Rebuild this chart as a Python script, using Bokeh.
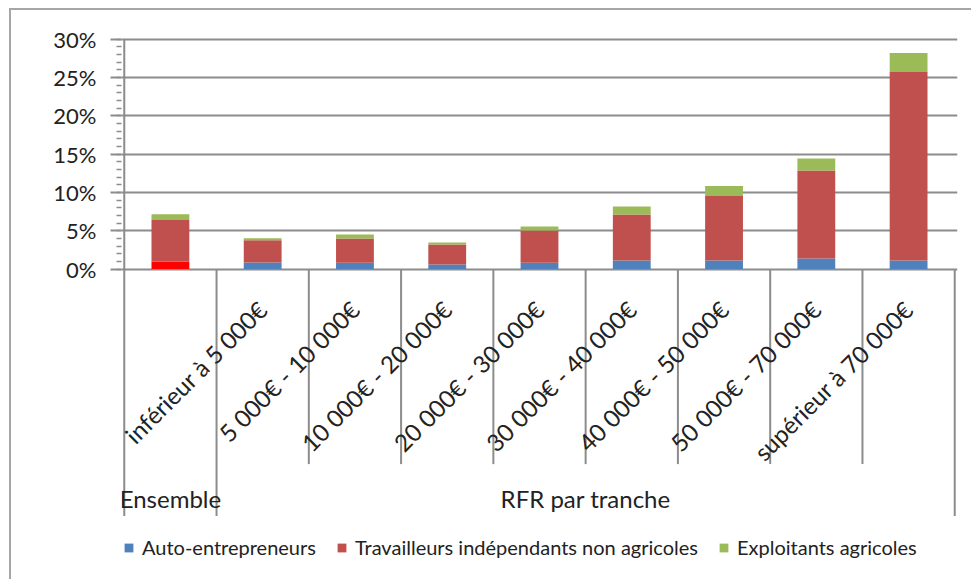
from math import pi

from bokeh.plotting import figure
from bokeh.models import (ColumnDataSource, FactorRange, Range1d, SingleIntervalTicker,
                          NumeralTickFormatter, Legend, LegendItem)
from bokeh.core.properties import value
from bokeh.embed import file_html
from bokeh.resources import INLINE

# ---------------- data ----------------
categories = ["Ensemble", "inférieur à 5 000€", "5 000€ - 10 000€", "10 000€ - 20 000€",
              "20 000€ - 30 000€", "30 000€ - 40 000€", "40 000€ - 50 000€",
              "50 000€ - 70 000€", "supérieur à 70 000€"]
tick_labels = ["", "inférieur à 5 000€", "5 000€ - 10 000€", "10 000€ - 20 000€",
               "20 000€ - 30 000€", "30 000€ - 40 000€", "40 000€ - 50 000€",
               "50 000€ - 70 000€", "supérieur à 70 000€"]
groups = ["Ensemble", "RFR par tranche"]
group_sizes = [1, 8]
series = ["Auto-entrepreneurs", "Travailleurs indépendants non agricoles", "Exploitants agricoles"]
auto_entrepreneurs = [0.0095, 0.0087, 0.0082, 0.0061, 0.0082, 0.0113, 0.0113, 0.0139, 0.0113]
travailleurs_independants = [0.0544, 0.0291, 0.0318, 0.0261, 0.0423, 0.0600, 0.0839, 0.1148, 0.2457]
exploitants_agricoles = [0.0078, 0.0026, 0.0052, 0.0026, 0.0052, 0.0104, 0.0131, 0.0156, 0.0250]

# ---------------- style ----------------
BLUE, RED, GREEN, ENSEMBLE_RED = "#4F81BD", "#C0504D", "#9BBB59", "#FF0000"
GRID = "#8c8c8c"
TEXT = "#222222"
FONT = "Lato"
PX = 230 / 0.30          # pixels per unit on the y scale
FRAME_H = 543
Y_END = 0.3034
Y_START = Y_END - FRAME_H / PX
Y_MAX = 0.30

auto_top = list(auto_entrepreneurs)
ti_top = [a + b for a, b in zip(auto_top, travailleurs_independants)]
ea_top = [a + b for a, b in zip(ti_top, exploitants_agricoles)]
auto_colors = [ENSEMBLE_RED if c == groups[0] else BLUE for c in categories]

src = ColumnDataSource(dict(cat=categories, label=tick_labels, auto_top=auto_top,
                            ti_top=ti_top, ea_top=ea_top, auto_color=auto_colors))

p = figure(x_range=FactorRange(factors=categories, range_padding=0.03,
                               range_padding_units="absolute"),
           y_range=Range1d(Y_START, Y_END),
           frame_width=836, frame_height=FRAME_H,
           min_border_left=110, min_border_right=14, min_border_top=26, min_border_bottom=0,
           x_axis_location=None, output_backend="svg", toolbar_location=None)
p.outline_line_color = None
p.background_fill_color = "white"
p.border_fill_color = "white"
# outer chart border (only top and left edges are visible in the reference)
p.styles = {"margin-left": "9px", "margin-top": "8px",
            "border-left": "2px solid #a6a6a6", "border-top": "2px solid #a6a6a6"}

# y axis
ax = p.yaxis[0]
ax.ticker = SingleIntervalTicker(interval=0.05, num_minor_ticks=5)
ax.bounds = (0, Y_MAX + 1e-4)
ax.formatter = NumeralTickFormatter(format="0%")
ax.axis_line_color = None
ax.major_tick_out = 11
ax.major_tick_in = 0
ax.minor_tick_out = 5
ax.minor_tick_in = 0
ax.major_tick_line_color = GRID
ax.major_tick_line_width = 2
ax.minor_tick_line_color = GRID
ax.minor_tick_line_width = 1.5
ax.major_label_standoff = 14
ax.major_label_text_font = FONT
ax.major_label_text_font_size = "22px"
ax.major_label_text_color = TEXT

p.ygrid.bounds = (0, Y_MAX + 1e-4)
p.ygrid.grid_line_color = GRID
p.ygrid.grid_line_width = 2
p.xgrid.visible = False

# category separators (Excel style), long at group boundaries
n = len(categories)
group_edges = [0]
for s in group_sizes:
    group_edges.append(group_edges[-1] + s)
sep_x = list(range(n + 1))
sep_y0 = [Y_MAX if i == 0 else 0 for i in sep_x]
sep_y1 = [-247 / PX if i in group_edges else -195 / PX for i in sep_x]
p.segment(x0=sep_x, y0=sep_y0, x1=sep_x, y1=sep_y1, line_color=GRID, line_width=2)

# stacked bars
W = 0.41
r1 = p.vbar(x="cat", bottom=0, top="auto_top", width=W, fill_color="auto_color",
            line_color=None, source=src)
r2 = p.vbar(x="cat", bottom="auto_top", top="ti_top", width=W, fill_color=RED,
            line_color=None, source=src)
r3 = p.vbar(x="cat", bottom="ti_top", top="ea_top", width=W, fill_color=GREEN,
            line_color=None, source=src)

# rotated category labels
p.text(x="cat", y=-36 / PX, text="label", angle=pi / 4, source=src,
       text_align="right", text_baseline="middle", text_font=value(FONT),
       text_font_size="24px", text_color=TEXT)

# group labels
group_x = []
for i, s in enumerate(group_sizes):
    group_x.append((group_edges[i] + group_edges[i + 1]) / 2)
p.text(x=group_x, y=[-229 / PX] * len(groups), text=groups, text_align="center",
       text_baseline="middle", text_font=value(FONT), text_font_size="24px",
       text_color=TEXT)

# legend (inside the extended frame, below the group labels)
legend = Legend(items=[LegendItem(label=series[0], renderers=[r1], index=1),
                       LegendItem(label=series[1], renderers=[r2]),
                       LegendItem(label=series[2], renderers=[r3])],
                orientation="horizontal", location=(2, 20),
                glyph_width=11, glyph_height=11, label_standoff=8, spacing=20,
                padding=0, margin=0, border_line_color=None, background_fill_alpha=0,
                label_text_font=FONT, label_text_font_size="20px",
                label_text_color=TEXT)
p.add_layout(legend)

open("out.html", "w").write(file_html(p, INLINE))
